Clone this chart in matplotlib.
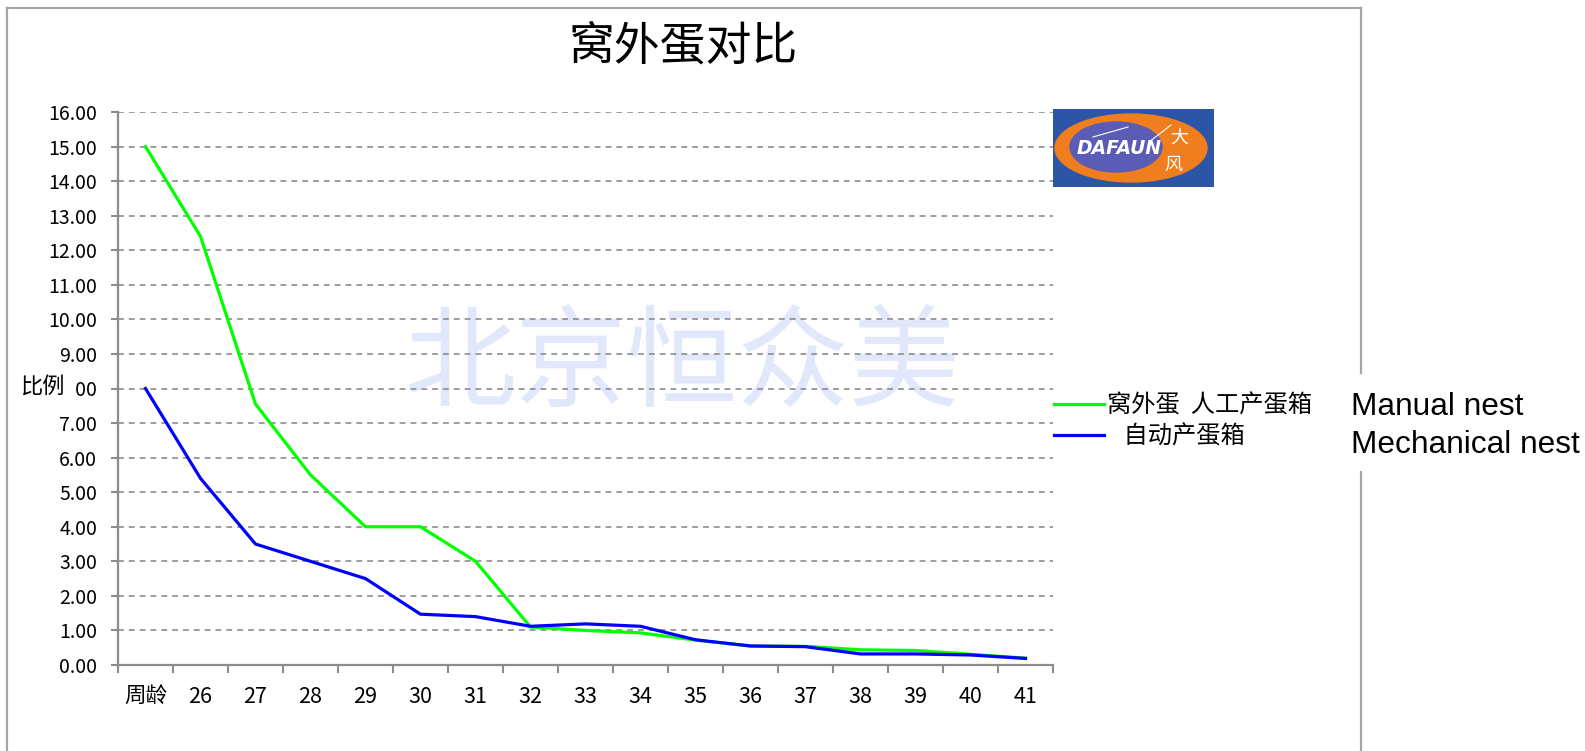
import numpy as np
import matplotlib.pyplot as plt
from matplotlib.lines import Line2D
from matplotlib.patches import Ellipse
from matplotlib.ticker import FormatStrFormatter

plt.rcParams['font.family'] = ['Noto Sans CJK SC', 'DejaVu Sans']

W, H = 1585, 751  # taille de l'image en pixels

# données
semaines = ['周龄', '26', '27', '28', '29', '30', '31', '32', '33',
            '34', '35', '36', '37', '38', '39', '40', '41']
manuel = [15.0, 12.4, 7.55, 5.5, 4.0, 4.0, 3.0, 1.1, 1.0,
          0.93, 0.72, 0.55, 0.54, 0.44, 0.42, 0.31, 0.2]
mecanique = [8.0, 5.4, 3.5, 3.0, 2.5, 1.47, 1.4, 1.12, 1.19,
             1.12, 0.73, 0.55, 0.53, 0.32, 0.32, 0.29, 0.19]
noms = ['窝外蛋  人工产蛋箱', '   自动产蛋箱']
noms_en = ['Manual nest', 'Mechanical nest']

gris = '#8c8c8c'


def fx(px):  # pixel -> fraction de figure (x)
    return px / W


def fy(py):  # pixel -> fraction de figure (y), origine en haut
    return 1 - py / H


fig = plt.figure(figsize=(W / 100, H / 100), dpi=100)
ax = fig.add_axes([fx(118), fy(665), fx(1053) - fx(118), fy(112) - fy(665)])

x = np.arange(len(semaines))
ax.plot(x, manuel, color='#00ff00', lw=2.3, label=noms[0], zorder=3)
ax.plot(x, mecanique, color='#0000ff', lw=2.3, label=noms[1], zorder=4)

ax.set_xlim(-0.5, len(semaines) - 0.5)
ax.set_ylim(0, 16)
ax.set_yticks(range(17))
ax.yaxis.set_major_formatter(FormatStrFormatter('%.2f'))
ax.set_xticks(np.arange(len(semaines) + 1) - 0.5)
ax.set_xticklabels([])
ax.set_xticks(x, minor=True)
ax.set_xticklabels(semaines, minor=True)

for s in ['top', 'right']:
    ax.spines[s].set_visible(False)
for s in ['left', 'bottom']:
    ax.spines[s].set_color(gris)
    ax.spines[s].set_linewidth(1.6)

ax.tick_params(axis='y', direction='out', length=5, width=1.5, color=gris,
               labelsize=14, pad=10)
ax.tick_params(axis='x', which='major', direction='out', length=6, width=1.5,
               color=gris)
ax.tick_params(axis='x', which='minor', length=0, labelsize=15.5, pad=15)
ax.grid(axis='y', color=gris, lw=1.2, linestyle=(0, (3.5, 3)))
ax.set_axisbelow(True)

# filigrane
ax.text(fx(682), fy(366), '北京恒众美', transform=fig.transFigure,
        fontsize=80, fontweight='light', color='#e2e8fc',
        ha='center', va='center', zorder=0.5)

# titre et étiquette de l'axe y
fig.text(fx(683), fy(46), '窝外蛋对比', fontsize=33, ha='center', va='center')
ax.text(fx(20), fy(387), '比例', transform=fig.transFigure, fontsize=16,
        ha='left', va='center', zorder=6,
        bbox=dict(boxstyle='square,pad=0.5', fc='white', ec='none'))

# légende
ax.legend(loc='center left', bbox_to_anchor=(fx(1054), fy(421)),
          bbox_transform=fig.transFigure, frameon=False, fontsize=17.5,
          handlelength=2.05, handletextpad=0.15, borderpad=0,
          borderaxespad=0, labelspacing=0.2)

fig.text(fx(1351), fy(415), noms_en[0], family='Liberation Sans',
         fontsize=22.8, va='baseline', ha='left')
fig.text(fx(1351), fy(453), noms_en[1], family='Liberation Sans',
         fontsize=22.8, va='baseline', ha='left')

# cadre autour du graphique
bord = '#a6a6a6'
for xs, ys in [([7, 7], [8, H]), ([7, 1361], [8, 8]),
               ([1361, 1361], [8, 373]), ([1361, 1361], [472, H])]:
    fig.add_artist(Line2D([fx(v) for v in xs], [fy(v) for v in ys],
                          transform=fig.transFigure, color=bord, lw=1.6))

# logo DAFAUN
lg = fig.add_axes([fx(1053), fy(187), fx(1214) - fx(1053), fy(109) - fy(187)])
lg.set_xlim(0, 161)
lg.set_ylim(0, 78)
lg.set_facecolor('#2c55a5')
lg.set_xticks([])
lg.set_yticks([])
for s in lg.spines.values():
    s.set_visible(False)
lg.add_patch(Ellipse((78, 39), 152, 68, color='#f07d1e'))
lg.add_patch(Ellipse((63, 40), 92, 50, color='#5a5cb6'))
lg.text(66, 38, 'DAFAUN', color='white', fontsize=13.5, fontweight='bold',
        fontstyle='italic', family='DejaVu Sans', ha='center', va='center')
lg.plot([40, 75], [50, 60], color='white', lw=0.8)
lg.plot([96, 118], [45, 62], color='white', lw=0.8)
lg.text(126, 49, '大', color='white', fontsize=13, ha='center', va='center')
lg.text(120, 22, '风', color='white', fontsize=13, ha='center', va='center')

plt.savefig('out.png', dpi=100)
